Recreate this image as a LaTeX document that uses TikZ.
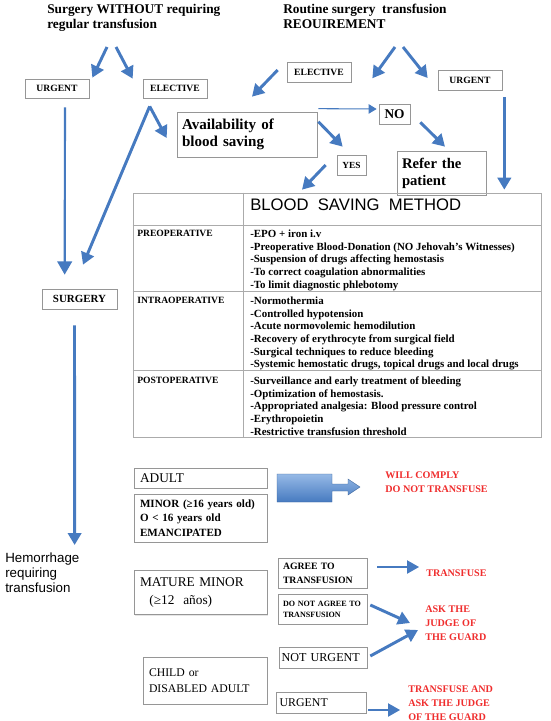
\documentclass[tikz,border=0pt]{standalone}
\usepackage{fontspec}
\setmainfont{Liberation Serif}
\setsansfont{Liberation Sans}
\usetikzlibrary{arrows.meta,positioning,calc,shadows}
\definecolor{arrblue}{RGB}{70,122,192}
\definecolor{boxgray}{RGB}{150,150,150}
\definecolor{warnred}{RGB}{240,45,45}
\def\px{0.75pt}
\tikzset{
box/.style={draw=boxgray, line width=0.5pt, fill=white, inner sep=0pt,
  drop shadow={shadow xshift=0.8pt, shadow yshift=-0.8pt, opacity=0.2}},
bigarr/.style={draw=arrblue, line width=2.2pt, -{Triangle[length=9pt,width=10pt]}},
vertarr/.style={draw=arrblue, line width=1.6pt, -{Triangle[length=10pt,width=11pt]}},
thinarr/.style={draw=arrblue, line width=0.9pt, -{Triangle[length=9pt,width=10pt]}},
noarr/.style={draw=arrblue, line width=0.8pt, -{Triangle[length=6pt,width=7pt]}},
redtxt/.style={text=warnred, font=\bfseries\fontsize{7.6}{10.5}\selectfont, align=left, inner sep=0pt, anchor=west},
rowlab/.style={anchor=north west, inner sep=0pt, font=\bfseries\fontsize{7.2}{9.5}\selectfont},
rowtxt/.style={anchor=north west, inner sep=0pt, align=left, font=\bfseries\fontsize{8.2}{9.5}\selectfont},
tline/.style={draw=boxgray!80, line width=0.5pt}
}
\begin{document}
\begin{tikzpicture}[x=0.75pt,y=-0.75pt]
\useasboundingbox[fill=white] (0,0) rectangle (550,721);

% titles
\node (ttlL) [anchor=north west, align=left, inner sep=0pt, font=\bfseries\fontsize{10}{11.3}\selectfont] at (47,4) {Surgery WITHOUT requiring\\regular transfusion};
\node (ttlR) [anchor=north west, align=left, inner sep=0pt, font=\bfseries\fontsize{10}{11.3}\selectfont] at (283,4) {Routine surgery\ \ transfusion\\REOUIREMENT};
\coordinate (fkL) at (111,46);
\coordinate (fkR) at (399,46);

% top boxes
\node (urgL) [box, minimum width=64*\px, minimum height=19*\px, font=\bfseries\fontsize{7.2}{8}\selectfont] at (57,88.5) {URGENT};
\node (elecL) [box, minimum width=64*\px, minimum height=19*\px, font=\bfseries\fontsize{7.2}{8}\selectfont] at (175,88.5) {ELECTIVE};
\node (elecR) [box, minimum width=64*\px, minimum height=20*\px, font=\bfseries\fontsize{7.2}{8}\selectfont] at (319,72) {ELECTIVE};
\node (urgR) [box, minimum width=64*\px, minimum height=20*\px, font=\bfseries\fontsize{7.2}{8}\selectfont] at (470,80) {URGENT};
\node (avail) [box, minimum width=140*\px, minimum height=45*\px, text width=97.5pt, align=left, font=\bfseries\fontsize{11.3}{12.8}\selectfont] at (247,134.5) {Availability of\\blood saving};
\node (no) [box, minimum width=31*\px, minimum height=20*\px, font=\bfseries\fontsize{10}{11}\selectfont] at (394.5,114) {NO};
\node (yes) [box, minimum width=29*\px, minimum height=20*\px, font=\bfseries\fontsize{7}{8}\selectfont] at (351.5,165) {YES};
\node (refer) [box, minimum width=89*\px, minimum height=44*\px, text width=59.25pt, align=left, font=\bfseries\fontsize{11}{12.8}\selectfont] at (441.5,173) {Refer the\\patient};
\node (surg) [box, minimum width=75*\px, minimum height=20*\px, font=\bfseries\fontsize{8.2}{9}\selectfont] at (79.5,299) {SURGERY};

% table
\node (tbl) [draw=boxgray!80, line width=0.5pt, minimum width=408*\px, minimum height=244*\px, inner sep=0pt] at (337,315) {};
\draw[tline] ($(tbl.north west)+(111,0)$) -- ($(tbl.south west)+(111,0)$);
\foreach \r in {33,99,178} {
\draw[tline] ($(tbl.north west)+(0,\r)$) -- ($(tbl.north east)+(0,\r)$);
}
\node (hdr) [anchor=west, inner sep=0pt, font=\sffamily\fontsize{12.5}{14}\selectfont] at (250,205) {BLOOD\ \ SAVING\ \ METHOD};
\node (pre) [rowlab] at (137,229.5) {PREOPERATIVE};
\node (preT) [rowtxt] at (250,229.5) {-EPO + iron i.v\\-Preoperative Blood-Donation (NO Jehovah's Witnesses)\\-Suspension of drugs affecting hemostasis\\-To correct coagulation abnormalities\\-To limit diagnostic phlebotomy};
\node (intra) [rowlab] at (137,296.5) {INTRAOPERATIVE};
\node (intraT) [rowtxt] at (250,296.5) {-Normothermia\\-Controlled hypotension\\-Acute normovolemic hemodilution\\-Recovery of erythrocyte from surgical field\\-Surgical techniques to reduce bleeding\\-Systemic hemostatic drugs, topical drugs and local drugs};
\node (post) [rowlab] at (137,376.5) {POSTOPERATIVE};
\node (postT) [rowtxt] at (250,376.5) {-Surveillance and early treatment of bleeding\\-Optimization of hemostasis.\\-Appropriated analgesia: Blood pressure control\\-Erythropoietin\\-Restrictive transfusion threshold};

% bottom part
\node (hem) [anchor=north west, align=left, inner sep=0pt, font=\sffamily\fontsize{10}{11.25}\selectfont] at (5,553) {Hemorrhage\\requiring\\transfusion};
\node (adult) [box, minimum width=133*\px, minimum height=20*\px, text width=90.75pt, align=left, font=\fontsize{10}{11}\selectfont] at (200.5,478) {ADULT};
\node (minor) [box, minimum width=133*\px, minimum height=48*\px, text width=90.75pt, align=left, font=\bfseries\fontsize{8.3}{10.9}\selectfont] at (200.5,518) {MINOR (≥16 years old)\\O < 16 years old\\EMANCIPATED};
\node (wc) [redtxt] at (385,482) {WILL COMPLY\\DO NOT TRANSFUSE};
\node (agree) [box, minimum width=89*\px, minimum height=30*\px, text width=59.25pt, align=left, font=\bfseries\fontsize{7.3}{10.5}\selectfont] at (322.5,573) {AGREE TO\\TRANSFUSION};
\node (trf) [redtxt] at (426,573) {TRANSFUSE};
\node (mature) [box, minimum width=133*\px, minimum height=44*\px, text width=90.75pt, align=left, font=\fontsize{10}{13.5}\selectfont] at (200.5,592.5) {MATURE MINOR\\\hspace*{7pt}(≥12\ \ años)};
\node (dna) [box, minimum width=89*\px, minimum height=30*\px, text width=59.25pt, align=left, font=\bfseries\fontsize{6.05}{8.2}\selectfont] at (322.5,609) {DO NOT AGREE TO\\TRANSFUSION};
\node (ask) [redtxt] at (425,623) {ASK THE\\JUDGE OF\\THE GUARD};
\node (noturg) [box, minimum width=88*\px, minimum height=21*\px, text width=62pt, align=left, font=\fontsize{9.1}{10}\selectfont] at (323,657.5) {NOT URGENT};
\node (child) [box, minimum width=124*\px, minimum height=47*\px, text width=84pt, align=left, font=\fontsize{8.8}{12}\selectfont] at (205,680.5) {CHILD or\\DISABLED ADULT};
\node (urgB) [box, minimum width=90*\px, minimum height=21*\px, text width=62pt, align=left, font=\fontsize{8.9}{10}\selectfont] at (321,702.5) {URGENT};
\node (tfa) [redtxt] at (408,703) {TRANSFUSE AND\\ASK THE JUDGE\\OF THE GUARD};

% block arrow
\shade[top color={rgb,255:red,150;green,185;blue,230}, bottom color=arrblue, draw=arrblue!80!black, line width=0.3pt]
(277,474) -- (332,474) -- (332,484) -- (348,484) -- (348,479) -- (360,487) -- (348,495) -- (348,491) -- (332,491) -- (332,502) -- (277,502) -- cycle;

% arrows
\draw[bigarr] ($(fkL)+(-4,1)$) -- ($(urgL.north east)+(3,-1)$);
\draw[bigarr] ($(fkL)+(5,1)$) -- ($(elecL.north west)+(-10,0)$);
\draw[bigarr] ($(fkR)+(-4,1)$) -- ($(elecR.south east)+(21,-4)$);
\draw[bigarr] ($(fkR)+(4,1)$) -- ($(urgR.west)+(-10,-2)$);
\draw[bigarr] ($(elecR.west)+(-9,-2)$) -- ($(avail.north)+(5,-15)$);
\draw[bigarr] ($(elecL.south west)+(7,8)$) -- ($(avail.west)+(-10,3.5)$);
\draw[bigarr] ($(elecL.south west)+(7,8)$) -- ($(surg.north)+(3.5,-24)$);
\draw[vertarr] ($(urgL.south)+(8,9)$) -- ($(surg.north west)+(23,-14)$);
\draw[bigarr] ($(surg.south)+(-5,16)$) -- ($(hem.north east)+(-5,-8)$);
\draw[noarr] ($(avail.north east)+(1,-3)$) -- ($(no.west)+(-2,-5)$);
\draw[bigarr] ($(avail.north east)+(1,10)$) -- ($(yes.north west)+(6,-8)$);
\draw[bigarr] ($(no.south east)+(10,-2)$) -- ($(refer.north)+(3.5,-4)$);
\draw[bigarr] ($(urgR.south east)+(2,7)$) -- ($(tbl.north east)+(-37,-3)$);
\draw[bigarr] ($(yes.west)+(-11,0)$) -- ($(tbl.north)+(-35,-3)$);
\draw[thinarr] ($(agree.east)+(10,-6)$) -- ($(trf.west)+(-7,-6)$);
\draw[bigarr] ($(dna.east)+(3,-4)$) -- ($(ask.west)+(-15,0)$);
\draw[bigarr] ($(noturg.east)+(3,-1.5)$) -- ($(ask.west)+(-7,7)$);
\draw[thinarr] ($(urgB.east)+(2,7.5)$) -- ($(tfa.west)+(-8,7)$);
\end{tikzpicture}
\end{document}
